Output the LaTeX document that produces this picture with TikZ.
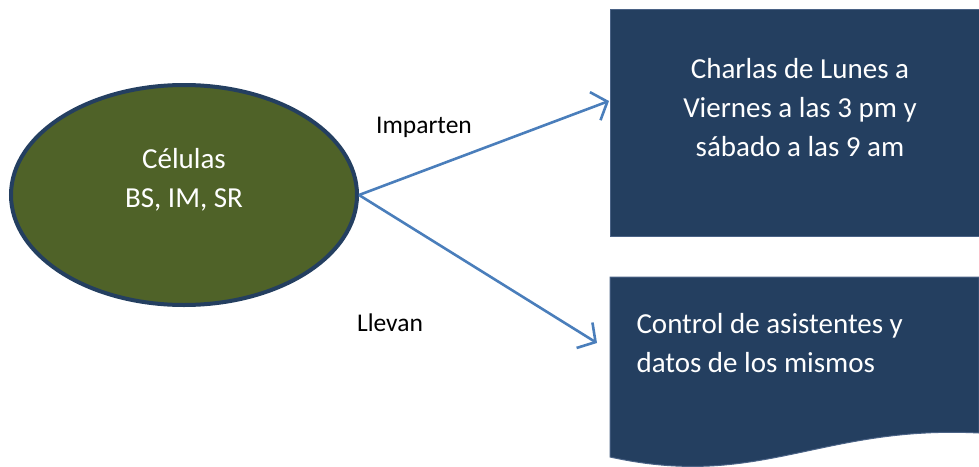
\documentclass[tikz,border=0pt]{standalone}
\usepackage{fontspec}
\setmainfont{Carlito}
\usetikzlibrary{shapes.geometric,arrows.meta}
\definecolor{celverde}{HTML}{4F6228}
\definecolor{celborde}{HTML}{243F60}
\definecolor{cajaazul}{HTML}{243F60}
\definecolor{cajaborde}{HTML}{4A6285}
\definecolor{flechaazul}{HTML}{4A7EBB}
\begin{document}
\begin{tikzpicture}[x=1pt,y=-1pt,
  caja/.style={fill=cajaazul,draw=cajaborde,line width=1pt},
  flecha/.style={draw=flechaazul,line width=2.6pt,-{Straight Barb[length=13pt,width=30pt]}},
  txt/.style={text=white,font=\fontsize{29}{39}\selectfont,align=center},
  etiq/.style={font=\fontsize{25.5}{30}\selectfont}]
\useasboundingbox (0,0) rectangle (979,466);
\node[ellipse,draw=celborde,fill=celverde,line width=4pt,minimum width=346pt,minimum height=220pt,inner sep=0pt] (cel) at (184,195) {};
\node[txt] (celtxt) at (184,180) {Células\\BS, IM, SR};
\node[caja,anchor=north west,minimum width=369pt,minimum height=227pt,inner sep=0pt] (charlas) at (610,9) {};
\node[txt] (charlastxt) at (800,108) {Charlas de Lunes a\\Viernes a las 3 pm y\\sábado a las 9 am};
\draw[caja] (610,277) -- (979,277) -- (979,433) .. controls (820,425) and (760,490) .. (610,457) -- cycle;
\node[txt,anchor=west,align=left] (control) at (633,343) {Control de asistentes y\\datos de los mismos};
\coordinate (pcharlas) at (609,101);
\coordinate (pcontrol) at (597,343);
\draw[flecha] (cel.east) -- (pcharlas);
\draw[flecha] (cel.east) -- (pcontrol);
\node[etiq] (imparten) at (424,127) {Imparten};
\node[etiq] (llevan) at (390,323) {Llevan};
\end{tikzpicture}
\end{document}
